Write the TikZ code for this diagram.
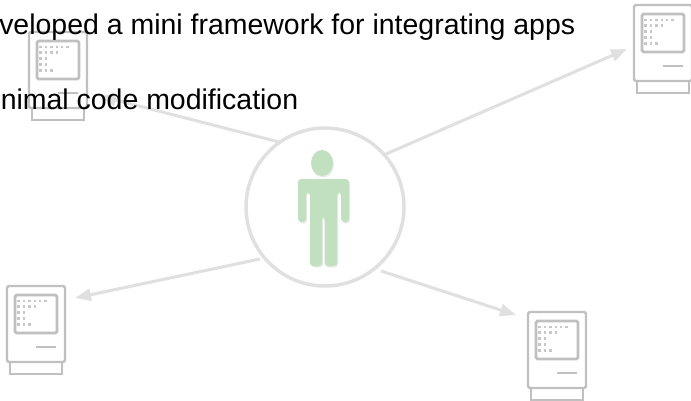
\documentclass[tikz,border=0pt]{standalone}
\usepackage{fontspec}
\setmainfont{Liberation Sans}
\usetikzlibrary{arrows.meta}
\definecolor{macgray}{RGB}{192,192,192}
\definecolor{dotgray}{RGB}{200,200,200}
\definecolor{linkgray}{RGB}{224,224,224}
\definecolor{persongreen}{RGB}{192,224,192}
\definecolor{personshadow}{RGB}{232,236,232}
\tikzset{
  px/.style={x=0.75pt,y=-0.75pt},
  macline/.style={draw=macgray,line width=1.8pt,rounded corners=1.2pt},
  macscreen/.style={draw=macgray,line width=2.1pt,rounded corners=1.2pt},
  macbase/.style={draw=macgray,line width=1.4pt},
  link/.style={draw=linkgray,line width=2.3pt,-{Triangle[length=12pt,width=9pt]}},
  hubring/.style={draw=linkgray,line width=2.6pt,fill=white,circle,minimum size=118.5pt,inner sep=0pt},
  textline/.style={anchor=base west,inner sep=0pt,font=\fontsize{21.35pt}{24pt}\selectfont},
  anchorpt/.style={inner sep=0pt,minimum size=0pt}
}
\newcommand{\macpc}[3]{%
  \begin{scope}[shift={(#1,#2)}]
    \draw[macbase] (3,76) rectangle (55,88);
    \draw[macline,fill=white] (0,0) rectangle (58,76);
    \draw[macscreen] (8,9) rectangle (50,47);
    \draw[macbase] (29,61) -- (49,61);
    \foreach \r/\n in {0/6,1/4,2/2,3/2,4/3}{
      \foreach \c in {1,...,\n}{
        \fill[dotgray] ({10.3+(\c-1)*5.4},{13.5+\r*5.9}) rectangle ++(2.5,2.5);
      }
    }
    \node[anchorpt] (#3) at (29,38) {};
  \end{scope}}
\newcommand{\personpath}[1]{%
  \fill[#1] (322,163) ellipse (11 and 13);
  \fill[#1,rounded corners=2.5pt]
  (298,222) -- (298,179) -- (349,179) -- (349,222) -- (341,222) -- (341,192)
  -- (337,192) -- (337,266) -- (324.5,266) -- (324.5,216) -- (322,216) -- (322,266)
  -- (310,266) -- (310,192) -- (306,192) -- (306,222) -- cycle;}
\begin{document}
\begin{tikzpicture}[px]
\useasboundingbox (0,0) rectangle (691,400);
\clip (0,0) rectangle (691,400);
\macpc{29}{32}{pcTL}
\macpc{634}{5}{pcTR}
\macpc{7}{286}{pcBL}
\macpc{528}{312}{pcBR}
\node[hubring] (hub) at (325,207) {};
\coordinate (endTL) at (100,96);
\coordinate (endTR) at (627,49);
\coordinate (endBL) at (75,298);
\coordinate (endBR) at (516,315);
\coordinate (startTL) at (279,142);
\coordinate (startTR) at (386,154);
\coordinate (startBL) at (260,259);
\coordinate (startBR) at (381,271);
\draw[link] (startTL) -- (endTL);
\draw[link] (startTR) -- (endTR);
\draw[link] (startBL) -- (endBL);
\draw[link] (startBR) -- (endBR);
\begin{scope}[shift={(1,1.5)}]\personpath{personshadow}\end{scope}
\personpath{persongreen}
\node[textline] (line1) at (-1,34) {\llap{De}veloped a mini framework for integrating apps};
\node[textline] (line2) at (0.5,109) {\llap{mi}nimal code modification};
\end{tikzpicture}
\end{document}
